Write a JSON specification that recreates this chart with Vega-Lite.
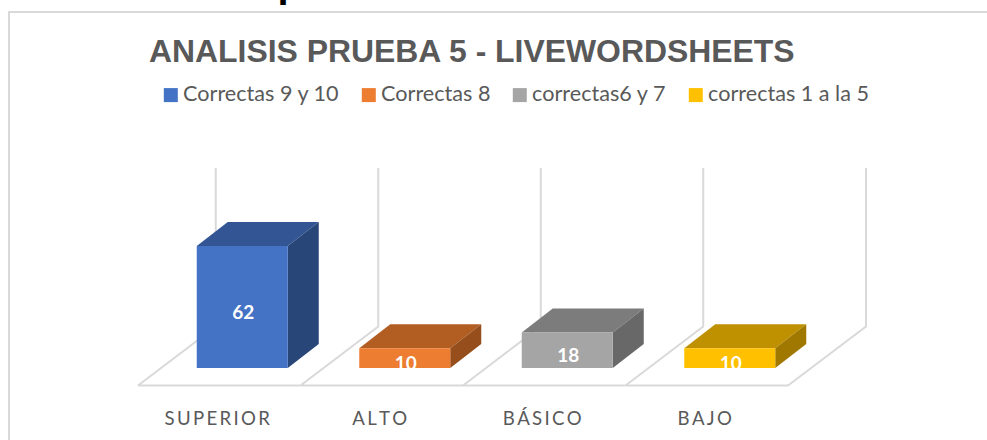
{
"$schema":"https://vega.github.io/schema/vega-lite/v6.json",
"width":990,"height":440,"autosize":{"type":"none"},
"padding":{"left":9,"top":12,"right":0,"bottom":0},
"background":"white",
"view":{"stroke":"#d9d9d9","strokeWidth":2,"fill":"white"},
"title":{"text":"ANALISIS PRUEBA 5 - LIVEWORDSHEETS","anchor":"start","frame":"group","offset":0,"dx":140,"dy":129,"baseline":"alphabetic","font":"Liberation Sans","fontSize":31.9,"fontWeight":"bold","color":"#595959"},
"config":{"legend":{"labelFont":"Lato","labelFontSize":21.6,"labelColor":"#595959","labelLimit":400}},
"data":{"values":[
{"nivel":"SUPERIOR","serie":"Correctas 9 y 10","valor":62},
{"nivel":"ALTO","serie":"Correctas 8","valor":10},
{"nivel":"BÁSICO","serie":"correctas6 y 7","valor":18},
{"nivel":"BAJO","serie":"correctas 1 a la 5","valor":10}
]},
"encoding":{
  "x":{"field":"nivel","type":"nominal","sort":null,"scale":{"range":[129,779],"paddingInner":0,"paddingOuter":0},
   "axis":{"title":null,"domain":false,"ticks":false,"orient":"bottom","offset":-29,"labelPadding":-14,"labelAngle":0,"labelFont":"Lato","labelFontSize":18.6,"labelColor":"#595959","labelOffset":-2,
    "labelExpr":"join(split(datum.label,''),'\u2009')"}}
},
"resolve":{"scale":{"color":"independent","y":"independent","shape":"independent"},"axis":{"y":"independent"}},
"layer":[
{"mark":{"type":"point","filled":false,"opacity":1,"stroke":"#d9d9d9","strokeWidth":2,"size":4,"shape":"M-81.25,17.5L-3.5,-41.5L-3.5,-200M-81.25,17.5L81.25,17.5"},
 "encoding":{
  "y":{"datum":0,"type":"quantitative","scale":{"domain":[0,100],"range":[356,159.2]},
   "axis":{"labels":false,"ticks":false,"domain":false,"grid":false,"title":"p","titleX":268,"titleY":-15.4,"titleAngle":0,"titleAlign":"left","titleBaseline":"alphabetic","titleFont":"Liberation Sans","titleFontSize":40,"titleFontWeight":"bold","titleColor":"#000000"}}
 }},
{"transform":[{"filter":"datum.nivel==='BAJO'"}],
 "mark":{"type":"point","filled":false,"opacity":1,"stroke":"#d9d9d9","strokeWidth":2,"size":4,"shape":"M81.25,17.5L159.25,-41.5L159.25,-200"},
 "encoding":{
  "y":{"datum":0,"type":"quantitative","scale":{"domain":[0,100],"range":[356,159.2]},"axis":null}
 }},
{"mark":{"type":"point","filled":true,"opacity":1,"size":4,"shape":"M68.5,0L99.5,-24L8.5,-24L-22.5,0Z"},
 "encoding":{
  "y":{"field":"valor","type":"quantitative","scale":{"domain":[0,100],"range":[356,159.2]},"axis":null},
  "color":{"field":"serie","type":"nominal","legend":null,"scale":{"domain":["Correctas 9 y 10","Correctas 8","correctas6 y 7","correctas 1 a la 5"],"range":["#335593","#B25D22","#7C7C7C","#BF9000"]}}
 }},
{"mark":{"type":"point","filled":true,"opacity":1,"size":4},
 "encoding":{
  "y":{"field":"valor","type":"quantitative","scale":{"domain":[0,100],"range":[356,159.2]},"axis":null},
  "color":{"field":"serie","type":"nominal","legend":null,"scale":{"domain":["Correctas 9 y 10","Correctas 8","correctas6 y 7","correctas 1 a la 5"],"range":["#294679","#954E1C","#686868","#A07800"]}},
  "shape":{"field":"serie","type":"nominal","legend":null,"scale":{"domain":["Correctas 9 y 10","Correctas 8","correctas6 y 7","correctas 1 a la 5"],"range":["M68.5,0L99.5,-24L99.5,98L68.5,122Z","M68.5,0L99.5,-24L99.5,-4.3L68.5,19.7Z","M68.5,0L99.5,-24L99.5,11.4L68.5,35.4Z","M68.5,0L99.5,-24L99.5,-4.3L68.5,19.7Z"]}}
 }},
{"mark":{"type":"bar","size":91,"xOffset":23},
 "encoding":{
  "y":{"field":"valor","type":"quantitative","scale":{"domain":[0,100],"range":[356,159.2]},"axis":null},
  "color":{"field":"serie","type":"nominal","title":null,
   "scale":{"domain":["Correctas 9 y 10","Correctas 8","correctas6 y 7","correctas 1 a la 5"],"range":["#4472C4","#ED7D31","#A5A5A5","#FFC000"]},
   "legend":{"orient":"none","direction":"horizontal","columns":4,"legendX":151,"legendY":72,"padding":0,"symbolType":"square","symbolSize":196,"symbolStrokeWidth":0,"symbolOpacity":1,"labelOffset":1.5,"columnPadding":18}}
 }},
{"mark":{"type":"text","xOffset":24,"yOffset":6,"font":"Lato","fontWeight":"bold","fontSize":19,"color":"#ffffff","baseline":"middle"},
 "encoding":{
  "y":{"field":"valor","type":"quantitative","scale":{"domain":[0,200],"range":[356,159.2]},"axis":null},
  "text":{"field":"valor","type":"quantitative"}
 }}
]}
